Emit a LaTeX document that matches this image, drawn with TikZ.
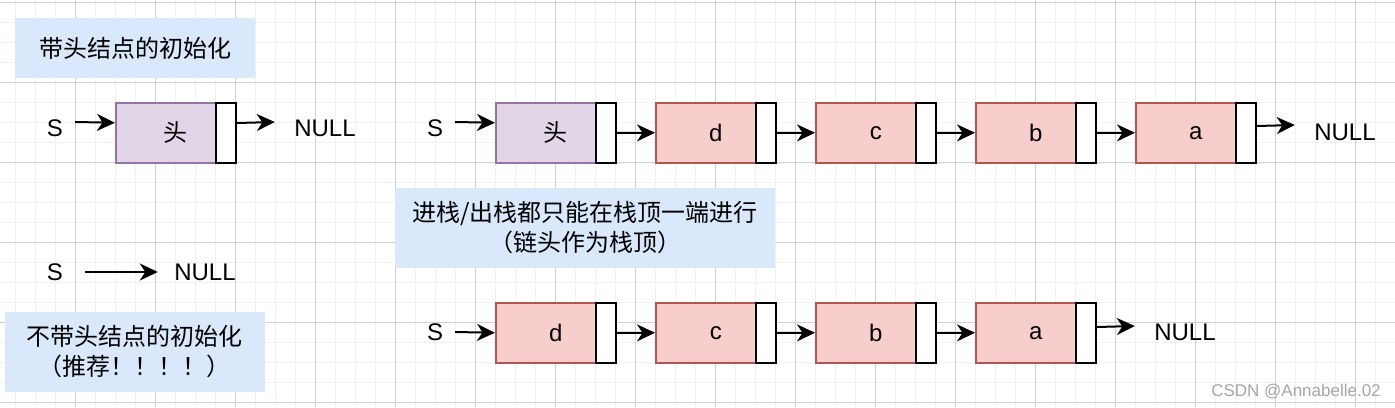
\documentclass[tikz,border=0pt]{standalone}
\usepackage{fontspec}
\setmainfont{Liberation Sans}
\newfontfamily\cjk{Noto Sans CJK SC}
\usetikzlibrary{arrows.meta}
\definecolor{gridmaj}{RGB}{208,208,208}
\definecolor{gridmin}{RGB}{240,240,240}
\definecolor{notefill}{HTML}{DAE8FC}
\definecolor{headfill}{HTML}{E1D5E7}
\definecolor{headline}{HTML}{9673A6}
\definecolor{datafill}{HTML}{F8CECC}
\definecolor{dataline}{HTML}{B85450}
\tikzset{
  every node/.style={font=\fontsize{24}{30}\selectfont, inner sep=0pt},
  note/.style={fill=notefill, align=center, font=\cjk\fontsize{24}{30}\selectfont},
  headbox/.style={draw=headline, fill=headfill, line width=1.5pt, minimum width=100pt, minimum height=60pt, anchor=north west},
  databox/.style={draw=dataline, fill=datafill, line width=1.5pt, minimum width=100pt, minimum height=60pt, anchor=north west},
  ptrbox/.style={draw=black, fill=white, line width=2pt, minimum width=20pt, minimum height=60pt, anchor=north west},
  link/.style={-{Stealth[length=18pt,width=17pt,inset=5.5pt]}, line width=2pt},
  nullsym/.style={minimum width=100pt},
  ssym/.style={minimum width=40pt},
  wmark/.style={font=\fontsize{17}{20}\selectfont, text=gray!70}
}
\begin{document}
\begin{tikzpicture}[x=1pt,y=-1pt]
\useasboundingbox (0,0) rectangle (1395,407);
\fill[white] (0,0) rectangle (1395,407);
% grid
\foreach \x in {15,35,...,1395} \draw[gridmin, line width=1pt] (\x,0) -- (\x,407);
\foreach \y in {2,22,...,407} \draw[gridmin, line width=1pt] (0,\y) -- (1395,\y);
\foreach \x in {75,155,...,1395} \draw[gridmaj, line width=1pt] (\x,0) -- (\x,407);
\foreach \y in {2,82,...,407} \draw[gridmaj, line width=1pt] (0,\y) -- (1395,\y);

% notes
\node[note, minimum width=240pt, minimum height=60pt] (note1) at (135,48) {带头结点的初始化};
\node[note, minimum width=380pt, minimum height=80pt] (note2) at (585,228) {进栈/出栈都只能在栈顶一端进行\\（链头作为栈顶）};
\node[note, minimum width=260pt, minimum height=80pt] (note3) at (135,352) {不带头结点的初始化\\（推荐！！！！）};

% row 1 left: head node initialisation
\node[ssym] (s1) at (55,128) {S};
\node[headbox] (h1) at (115,102) {\hspace*{20pt}{\cjk 头}};
\node[ptrbox] (ph1) at (215,102) {};
\node[nullsym] (n1) at (325,128) {NULL};
\draw[link] ([yshift=6pt]s1.east) -- ([yshift=10pt]h1.west);
\draw[link] ([yshift=10pt]ph1.east) -- ([yshift=6pt]n1.west);

% row 1 right: with head node
\node[ssym] (s2) at (435,128) {S};
\node[headbox] (h2) at (495,102) {\hspace*{20pt}{\cjk 头}};
\node[ptrbox] (ph2) at (595,102) {};
\node[databox] (d2) at (655,102) {\hspace*{20pt}d};
\node[ptrbox] (pd2) at (755,102) {};
\node[databox] (c2) at (815,102) {\hspace*{20pt}c};
\node[ptrbox] (pc2) at (915,102) {};
\node[databox] (b2) at (975,102) {\hspace*{20pt}b};
\node[ptrbox] (pb2) at (1075,102) {};
\node[databox] (a2) at (1135,102) {\hspace*{20pt}a};
\node[ptrbox] (pa2) at (1235,102) {};
\node[nullsym] (n2) at (1345,132) {NULL};
\draw[link] ([yshift=6pt]s2.east) -- ([yshift=10pt]h2.west);
\draw[link] (ph2.east) -- (d2.west);
\draw[link] (pd2.east) -- (c2.west);
\draw[link] (pc2.east) -- (b2.west);
\draw[link] (pb2.east) -- (a2.west);
\draw[link] ([yshift=7pt]pa2.east) -- ([yshift=7pt]n2.west);

% row 2 left: without head node
\node[minimum width=60pt] (s4) at (55,272) {S};
\node[minimum width=94pt] (n4) at (205,272) {NULL};
\draw[link] (s4.east) -- (n4.west);

% row 3: without head node
\node[ssym] (s3) at (435,332) {S};
\node[databox] (d3) at (495,302) {\hspace*{20pt}d};
\node[ptrbox] (pd3) at (595,302) {};
\node[databox] (c3) at (655,302) {\hspace*{20pt}c};
\node[ptrbox] (pc3) at (755,302) {};
\node[databox] (b3) at (815,302) {\hspace*{20pt}b};
\node[ptrbox] (pb3) at (915,302) {};
\node[databox] (a3) at (975,302) {\hspace*{20pt}a};
\node[ptrbox] (pa3) at (1075,302) {};
\node[nullsym] (n3) at (1185,332) {NULL};
\draw[link] (s3.east) -- (d3.west);
\draw[link] (pd3.east) -- (c3.west);
\draw[link] (pc3.east) -- (b3.west);
\draw[link] (pb3.east) -- (a3.west);
\draw[link] ([yshift=6pt]pa3.east) -- ([yshift=6pt]n3.west);

% watermark
\node[wmark] (wm) at (1296,392) {CSDN @Annabelle.02};
\end{tikzpicture}
\end{document}
